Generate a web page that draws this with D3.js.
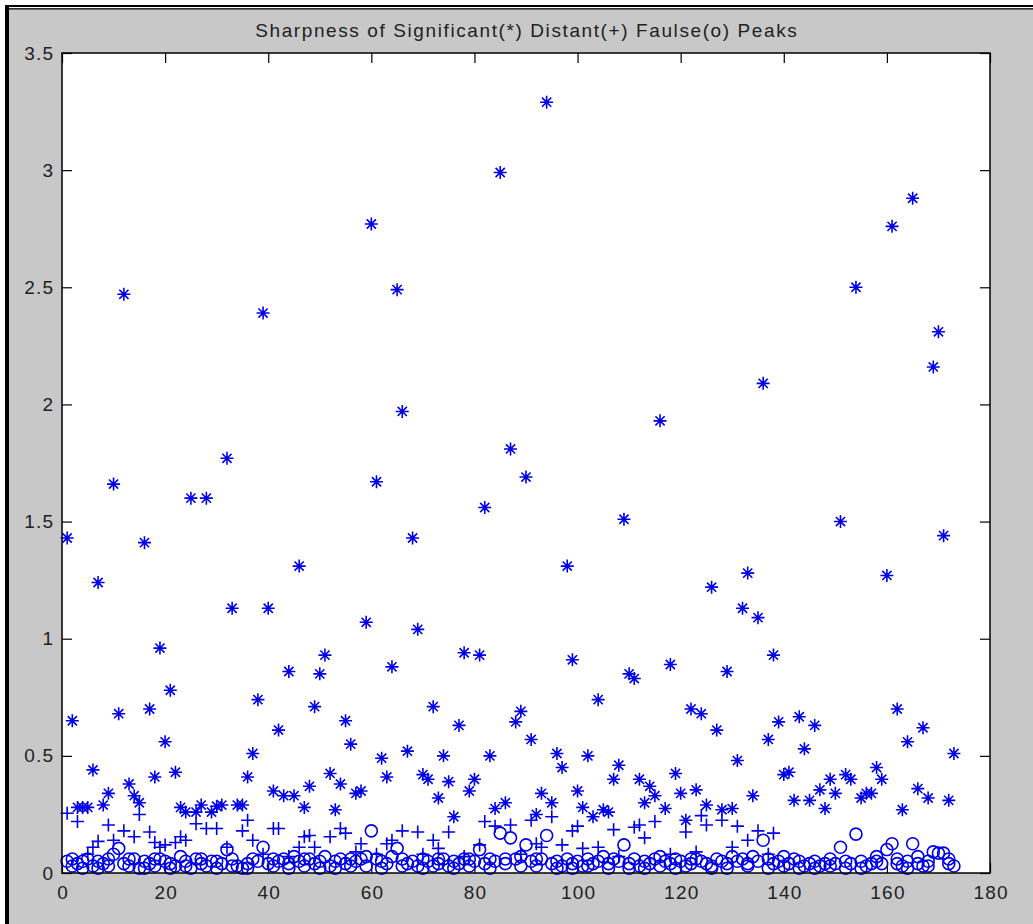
<!DOCTYPE html>
<html>
<head>
<meta charset="utf-8">
<script src="https://cdn.jsdelivr.net/npm/d3@7"></script>
<style>
  html, body { margin: 0; padding: 0; background: #ffffff; }
  svg { display: block; }
  text { font-family: "Liberation Sans", Arial, sans-serif; fill: #222; }
</style>
</head>
<body>
<script>
// Significant peaks (*): one sharpness value per peak index 1..173
const sigY = [
  1.43, 0.65, 0.28, 0.28, 0.28, 0.44, 1.24, 0.29, 0.34, 1.66,
  0.68, 2.47, 0.38, 0.33, 0.30, 1.41, 0.70, 0.41, 0.96, 0.56,
  0.78, 0.43, 0.28, 0.26, 1.60, 0.26, 0.29, 1.60, 0.26, 0.285,
  0.29, 1.77, 1.13, 0.29, 0.29, 0.41, 0.51, 0.74, 2.39, 1.13,
  0.35, 0.61, 0.33, 0.86, 0.33, 1.31, 0.28, 0.37, 0.71, 0.85,
  0.93, 0.425, 0.27, 0.38, 0.65, 0.55, 0.34, 0.35, 1.07, 2.77,
  1.67, 0.49, 0.41, 0.88, 2.49, 1.97, 0.52, 1.43, 1.04, 0.42,
  0.40, 0.71, 0.32, 0.50, 0.39, 0.24, 0.63, 0.94, 0.35, 0.40,
  0.93, 1.56, 0.50, 0.275, 2.99, 0.30, 1.81, 0.645, 0.69, 1.69,
  0.57, 0.25, 0.34, 3.29, 0.30, 0.51, 0.45, 1.31, 0.91, 0.35,
  0.28, 0.50, 0.24, 0.74, 0.27, 0.26, 0.40, 0.46, 1.51, 0.85,
  0.83, 0.40, 0.30, 0.37, 0.33, 1.93, 0.275, 0.89, 0.425, 0.34,
  0.225, 0.70, 0.355, 0.68, 0.29, 1.22, 0.61, 0.27, 0.86, 0.275,
  0.48, 1.13, 1.28, 0.33, 1.09, 2.09, 0.57, 0.93, 0.645, 0.42,
  0.43, 0.31, 0.667, 0.53, 0.31, 0.63, 0.355, 0.275, 0.40, 0.34,
  1.50, 0.42, 0.40, 2.50, 0.32, 0.34, 0.34, 0.45, 0.40, 1.27,
  2.76, 0.70, 0.27, 0.56, 2.88, 0.36, 0.62, 0.32, 2.16, 2.31,
  1.44, 0.31, 0.51
];

// Distant peaks (+)
const distX = [
  1, 3, 5, 6, 7, 9, 10, 12, 14, 15,
  17, 18, 19, 20, 22, 23, 24, 26, 28, 30,
  32, 35, 36, 37, 39, 41, 42, 44, 46, 47,
  48, 49, 52, 54, 55, 57, 58, 61, 63, 64,
  66, 69, 70, 72, 73, 75, 78, 81, 82, 84,
  87, 89, 91, 92, 93, 95, 97, 99, 100, 101,
  104, 107, 108, 111, 112, 113, 115, 118, 121, 123,
  124, 125, 128, 130, 131, 133, 135, 137, 138
];
const distY = [
  0.255, 0.22, 0.08, 0.11, 0.135, 0.205, 0.14, 0.18, 0.155, 0.25,
  0.175, 0.13, 0.11, 0.12, 0.13, 0.155, 0.14, 0.21, 0.19, 0.19,
  0.11, 0.18, 0.225, 0.14, 0.08, 0.19, 0.19, 0.07, 0.11, 0.155,
  0.16, 0.11, 0.155, 0.19, 0.17, 0.09, 0.125, 0.08, 0.125, 0.14,
  0.18, 0.175, 0.08, 0.14, 0.105, 0.175, 0.07, 0.12, 0.22, 0.20,
  0.205, 0.08, 0.225, 0.125, 0.11, 0.24, 0.12, 0.18, 0.20, 0.105,
  0.11, 0.185, 0.07, 0.195, 0.205, 0.15, 0.22, 0.08, 0.175, 0.09,
  0.245, 0.205, 0.225, 0.11, 0.20, 0.14, 0.18, 0.08, 0.17
];

// False peaks (o): one value per peak index 1..173
const falseY = [
  0.05, 0.03, 0.04, 0.02, 0.06, 0.03, 0.05, 0.04, 0.03, 0.08, 0.105, 0.04, 0.03, 0.06, 0.02, 0.05, 0.04, 0.03, 0.06, 0.05,
  0.04, 0.03, 0.07, 0.05, 0.02, 0.06, 0.04, 0.03, 0.05, 0.02, 0.04, 0.10, 0.06, 0.03, 0.02, 0.04, 0.06, 0.05, 0.11, 0.04,
  0.03, 0.05, 0.06, 0.04, 0.07, 0.05, 0.03, 0.06, 0.04, 0.05, 0.07, 0.03, 0.05, 0.06, 0.04, 0.03, 0.05, 0.06, 0.07, 0.18,
  0.06, 0.05, 0.04, 0.07, 0.105, 0.06, 0.04, 0.05, 0.03, 0.06, 0.05, 0.03, 0.04, 0.06, 0.03, 0.05, 0.04, 0.06, 0.03, 0.05,
  0.10, 0.04, 0.06, 0.05, 0.17, 0.04, 0.15, 0.06, 0.03, 0.12, 0.05, 0.03, 0.06, 0.16, 0.04, 0.05, 0.03, 0.06, 0.04, 0.05,
  0.03, 0.06, 0.04, 0.05, 0.07, 0.04, 0.06, 0.05, 0.12, 0.04, 0.06, 0.03, 0.05, 0.04, 0.06, 0.03, 0.05, 0.04, 0.06, 0.05,
  0.03, 0.04, 0.06, 0.05, 0.04, 0.03, 0.06, 0.05, 0.04, 0.07, 0.05, 0.06, 0.04, 0.07, 0.05, 0.14, 0.06, 0.04, 0.05, 0.03,
  0.04, 0.06, 0.05, 0.03, 0.04, 0.05, 0.03, 0.04, 0.03, 0.04, 0.11, 0.05, 0.04, 0.166, 0.05, 0.03, 0.04, 0.05, 0.04, 0.10,
  0.125, 0.04, 0.03, 0.05, 0.125, 0.04, 0.03, 0.05, 0.09, 0.085, 0.085, 0.04, 0.03
];
// Additional false peaks found at some indices
const extraFalseX = [
  2, 4, 7, 9, 13, 16, 18, 21, 24, 27, 30, 33, 36, 41, 44, 47, 50, 53, 56, 59,
  62, 66, 70, 73, 76, 79, 83, 86, 89, 92, 96, 99, 102, 106, 110, 113, 116, 119, 122, 126,
  129, 133, 137, 140, 143, 146, 149, 152, 155, 158, 162, 164, 166, 168, 172
];
const extraFalseY = [
  0.06, 0.05, 0.02, 0.06, 0.06, 0.02, 0.06, 0.02, 0.03, 0.06, 0.05, 0.03, 0.02, 0.06, 0.02, 0.06, 0.02, 0.02, 0.06, 0.03,
  0.02, 0.03, 0.02, 0.06, 0.02, 0.06, 0.02, 0.06, 0.07, 0.06, 0.02, 0.02, 0.03, 0.02, 0.02, 0.02, 0.07, 0.02, 0.06, 0.02,
  0.02, 0.03, 0.02, 0.07, 0.02, 0.02, 0.06, 0.02, 0.02, 0.07, 0.06, 0.02, 0.07, 0.03, 0.06
];

const xTicks = [0, 20, 40, 60, 80, 100, 120, 140, 160, 180];
const yTicks = [0, 0.5, 1, 1.5, 2, 2.5, 3, 3.5];
const yTickLabels = ["0", "0.5", "1", "1.5", "2", "2.5", "3", "3.5"];
const titleText = "Sharpness of Significant(*) Distant(+) Faulse(o) Peaks";

const W = 1033, H = 924;
const plot = { left: 62, top: 53, right: 990, bottom: 873 };
const blue = "#0000e8";
const labelFont = "'Liberation Sans', Arial, sans-serif";

const svg = d3.select("body").append("svg").attr("width", W).attr("height", H);

// window frame: white edge, black double rule on top, thick black rule on the left, grey figure
svg.append("rect").attr("width", W).attr("height", H).attr("fill", "#ffffff");
svg.append("rect").attr("x", 5).attr("y", 5).attr("width", W - 5).attr("height", H - 5).attr("fill", "#000");
svg.append("rect").attr("x", 9).attr("y", 7).attr("width", W - 9).attr("height", 1.2).attr("fill", "#ffffff");
svg.append("rect").attr("x", 9).attr("y", 9.5).attr("width", W - 9).attr("height", H - 9.5).attr("fill", "#c8c8c8");

const x = d3.scaleLinear().domain([0, 180]).range([plot.left, plot.right]);
const y = d3.scaleLinear().domain([0, 3.5]).range([plot.bottom, plot.top]);

svg.append("rect")
  .attr("x", plot.left).attr("y", plot.top)
  .attr("width", plot.right - plot.left).attr("height", plot.bottom - plot.top)
  .attr("fill", "#ffffff");

const tickLen = 10;
const fmt = (d, i) => yTickLabels[i];

// axes: labels on bottom/left, inward ticks on all four sides
const gx = svg.append("g").attr("transform", `translate(0,${plot.bottom})`)
  .call(d3.axisBottom(x).tickValues(xTicks).tickSize(-tickLen).tickPadding(13).tickFormat(d3.format("d")));
const gxTop = svg.append("g").attr("transform", `translate(0,${plot.top})`)
  .call(d3.axisTop(x).tickValues(xTicks).tickSize(-tickLen).tickFormat(""));
const gy = svg.append("g").attr("transform", `translate(${plot.left},0)`)
  .call(d3.axisLeft(y).tickValues(yTicks).tickSize(-tickLen).tickPadding(9).tickFormat(fmt));
const gyRight = svg.append("g").attr("transform", `translate(${plot.right},0)`)
  .call(d3.axisRight(y).tickValues(yTicks).tickSize(-tickLen).tickFormat(""));

[gx, gxTop, gy, gyRight].forEach(g => {
  g.select(".domain").remove();
  g.selectAll(".tick line").attr("stroke", "#000").attr("stroke-width", 1.2);
  g.selectAll("text").attr("font-size", 19).attr("fill", "#2a2a2a")
    .attr("letter-spacing", 1.2)
    .style("font-family", labelFont);
});
// letter spacing pads the end of each label; keep labels centred / right aligned on the tick
gx.selectAll("text").attr("dx", 0.6);
gy.selectAll("text").attr("dx", 1.2);

// markers
const marks = svg.append("g")
  .attr("fill", "none").attr("stroke", blue).attr("stroke-width", 1.6);

const r = 6.5, rd = 4.6;
const plusPath = `M${-r},0H${r}M0,${-r}V${r}`;
const starPath = plusPath + `M${-rd},${-rd}L${rd},${rd}M${-rd},${rd}L${rd},${-rd}`;

const falsePts = falseY.map((v, i) => [i + 1, v])
  .concat(extraFalseX.map((v, i) => [v, extraFalseY[i]]));
marks.append("g").selectAll("circle").data(falsePts).join("circle")
  .attr("cx", d => x(d[0])).attr("cy", d => y(d[1])).attr("r", 6);

marks.append("g").selectAll("path").data(distX.map((v, i) => [v, distY[i]])).join("path")
  .attr("transform", d => `translate(${x(d[0])},${y(d[1])})`).attr("d", plusPath);

marks.append("g").selectAll("path").data(sigY.map((v, i) => [i + 1, v])).join("path")
  .attr("transform", d => `translate(${x(d[0])},${y(d[1])})`).attr("d", starPath);

// axes box
svg.append("rect")
  .attr("x", plot.left).attr("y", plot.top)
  .attr("width", plot.right - plot.left).attr("height", plot.bottom - plot.top)
  .attr("fill", "none").attr("stroke", "#000").attr("stroke-width", 1.5);

svg.append("text")
  .attr("x", (plot.left + plot.right) / 2 + 0.8).attr("y", 37)
  .attr("text-anchor", "middle").attr("font-size", 19)
  .attr("letter-spacing", 1.6).attr("fill", "#2a2a2a")
  .style("font-family", labelFont)
  .text(titleText);
</script>
</body>
</html>
